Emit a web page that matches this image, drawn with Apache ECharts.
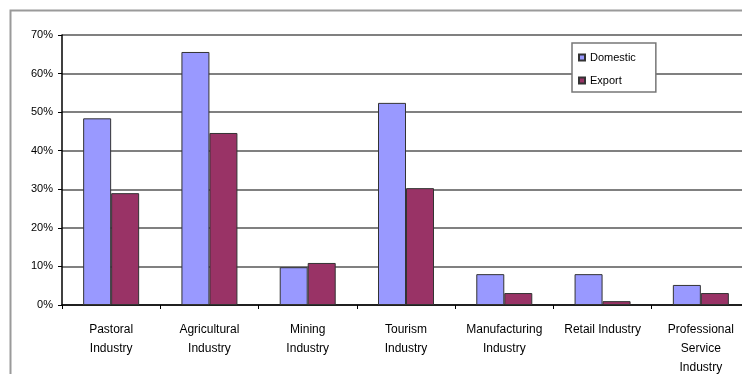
<!DOCTYPE html>
<html>
<head>
<meta charset="utf-8">
<script src="https://cdn.jsdelivr.net/npm/echarts@6/dist/echarts.min.js"></script>
<style>
  html, body { margin: 0; padding: 0; background: #fff; }
  #chart { width: 742px; height: 374px; }
</style>
</head>
<body>
<div id="chart"></div>
<script>
// Industry categories along the x axis
const categories = [
  'Pastoral\nIndustry',
  'Agricultural\nIndustry',
  'Mining\nIndustry',
  'Tourism\nIndustry',
  'Manufacturing\nIndustry',
  'Retail Industry',
  'Professional\nService\nIndustry'
];

// Share of each industry (percent)
const domestic = [48.4, 65.6, 9.8, 52.4, 8.0, 8.0, 5.2];
const exportShare = [29.0, 44.6, 10.9, 30.3, 3.1, 1.0, 3.1];

const seriesNames = ['Domestic', 'Export'];
const yTicks = { min: 0, max: 70, interval: 10 };

const chart = echarts.init(document.getElementById('chart'), null, { renderer: 'canvas' });

const labelFont = { fontFamily: 'Liberation Sans, Arial, sans-serif', color: '#000' };

chart.setOption({
  animation: false,
  backgroundColor: '#fff',
  graphic: [{
    type: 'rect',
    left: 8, top: 8,
    shape: { width: 760, height: 400 },
    style: { fill: 'none', stroke: '#9a9a9a', lineWidth: 2 },
    silent: true,
    z: -1
  }],
  legend: {
    data: seriesNames,
    orient: 'vertical',
    left: 572, top: 43,
    itemWidth: 6, itemHeight: 6,
    itemGap: 12,
    padding: [9, 20, 6, 6],
    backgroundColor: '#fff',
    borderColor: '#777',
    borderWidth: 1.5,
    icon: 'rect',
    textStyle: Object.assign({ fontSize: 11, color: '#222' }, labelFont),
    z: 10
  },
  grid: {
    left: 62, right: -8, top: 35, bottom: 69,
    containLabel: false,
    outerBoundsMode: 'none'
  },
  xAxis: {
    type: 'category',
    data: categories,
    axisLine: { lineStyle: { color: '#000', width: 1.5 } },
    axisTick: { show: true, length: 4, lineStyle: { color: '#000' }, alignWithLabel: false },
    axisLabel: Object.assign({ fontSize: 12, margin: 15, lineHeight: 19, interval: 0 }, labelFont),
    splitLine: { show: false }
  },
  yAxis: {
    type: 'value',
    min: yTicks.min, max: yTicks.max, interval: yTicks.interval,
    axisLine: { show: true, lineStyle: { color: '#000', width: 1.5 } },
    axisTick: { show: true, length: 4, lineStyle: { color: '#000' } },
    axisLabel: Object.assign({ fontSize: 11, margin: 9, formatter: '{value}%' }, labelFont),
    splitLine: { show: true, lineStyle: { color: '#808080', width: 2 } }
  },
  series: [
    {
      name: seriesNames[0],
      type: 'bar',
      data: domestic,
      barWidth: 28,
      barGap: '0%',
      itemStyle: { color: '#9999FF', borderColor: '#333', borderWidth: 1 }
    },
    {
      name: seriesNames[1],
      type: 'bar',
      data: exportShare,
      barWidth: 28,
      barGap: '0%',
      itemStyle: { color: '#993366', borderColor: '#333', borderWidth: 1 }
    }
  ]
});
</script>
</body>
</html>
